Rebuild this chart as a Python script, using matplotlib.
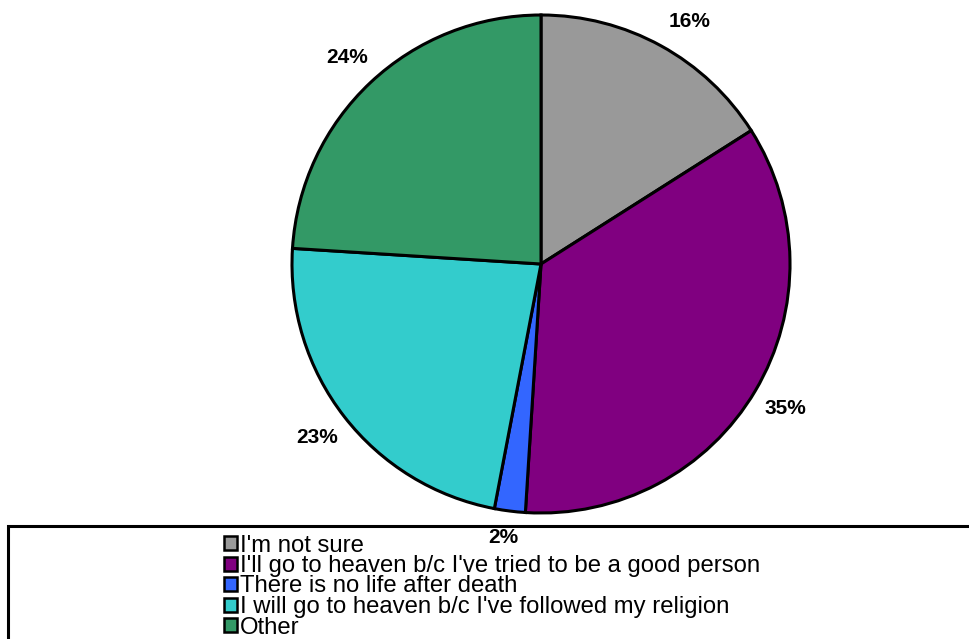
import matplotlib.pyplot as plt
from matplotlib.patches import Rectangle

labels = [
    "I'm not sure",
    "I'll go to heaven b/c I've tried to be a good person",
    "There is no life after death",
    "I will go to heaven b/c I've followed my religion",
    "Other",
]
values = [16, 35, 2, 23, 24]
colors = ['#999999', '#800080', '#3366FF', '#33CCCC', '#339966']

plt.rcParams['font.family'] = ['Liberation Sans', 'DejaVu Sans']

W, H = 969, 639
fig = plt.figure(figsize=(W / 100, H / 100), dpi=100)

# pie centre and radius in pixels (from top-left)
cx, cy, r = 541, 264, 249
ax = fig.add_axes([(cx - r) / W, (H - cy - r) / H, 2 * r / W, 2 * r / H])
wedges, texts, autotexts = ax.pie(
    values, colors=colors, startangle=90, counterclock=False,
    wedgeprops=dict(edgecolor='black', linewidth=2.2),
    autopct='%1.0f%%', pctdistance=1.14,
    textprops=dict(fontsize=15, fontweight='bold', color='black'))
ax.set_xlim(-1, 1)
ax.set_ylim(-1, 1)
ax.axis('off')

# small nudges of label placement (pixels -> data units)
nudge = {0: (12, -6), 2: (-2, 8)}
for i, (dx, dy) in nudge.items():
    x, y = autotexts[i].get_position()
    autotexts[i].set_position((x + dx / r, y + dy / r))

# legend box
fig.patches.append(Rectangle((8 / W, -0.1), 1.0, (H - 526) / H + 0.1,
                             transform=fig.transFigure, facecolor='white',
                             edgecolor='black', linewidth=2.2, zorder=-1))

row0, step = 543, 20.5
for i, (lab, col) in enumerate(zip(labels, colors)):
    yc = row0 + i * step
    fig.patches.append(Rectangle((224 / W, (H - yc - 7) / H), 13 / W, 14 / H,
                                 transform=fig.transFigure, facecolor=col,
                                 edgecolor='black', linewidth=1.8))
    fig.text(240 / W, (H - yc) / H, lab, fontsize=17.2, va='center_baseline',
             ha='left')

fig.savefig('out.png', dpi=100)
